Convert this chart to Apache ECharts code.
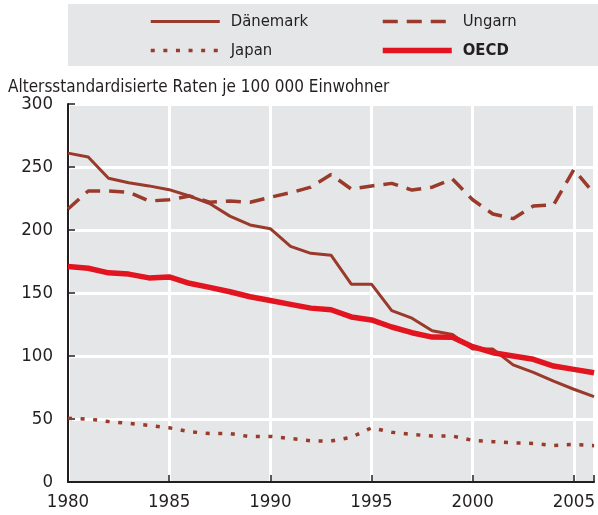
<!DOCTYPE html>
<html>
<head>
    <meta charset="utf-8">
    <script src="https://cdn.jsdelivr.net/npm/echarts@6/dist/echarts.min.js"></script>
    <style>
        html, body { margin: 0; padding: 0; background: #fff; }
    </style>
</head>
<body>
    <div id="main" style="width: 598px;height:515px;"></div>
    <script type="text/javascript">
        // Jahre und Raten je 100 000 Einwohner
        var years = [1980, 1981, 1982, 1983, 1984, 1985, 1986, 1987, 1988, 1989,
            1990, 1991, 1992, 1993, 1994, 1995, 1996, 1997, 1998, 1999,
            2000, 2001, 2002, 2003, 2004, 2005, 2006];
        var daenemark = [261, 258, 241, 237.5, 235, 232, 227, 221, 211, 204,
            201, 187, 181.5, 180, 157, 157, 136, 130, 120, 117,
            105.5, 105.5, 93, 87, 80, 73.6, 67.7];
        var ungarn = [216.7, 231, 231, 230, 223, 224, 227, 222, 223, 222,
            226, 229.6, 234, 244, 232.5, 235, 237, 231.7, 234, 240.5,
            224, 212.7, 209, 219, 220, 248, 229];
        var japan = [50.5, 50, 48, 46.5, 45, 43, 40, 38.4, 38.4, 36,
            36.2, 34.5, 32.7, 32.5, 35.5, 43, 39.5, 37.7, 36.5, 36.5,
            33, 32, 31, 30.6, 29, 29.8, 28.8];
        var oecd = [171, 169.6, 166, 165, 162, 162.7, 157.7, 154.5, 151, 147,
            144, 141, 138, 136.7, 131, 128.6, 123, 118.5, 115, 114.8,
            107.4, 102.6, 100, 97.4, 92, 89.4, 86.7];
        var yTicks = [0, 50, 100, 150, 200, 250, 300];

        var FONT = '"Liberation Sans Narrow", "DejaVu Sans Condensed", sans-serif';
        var BROWN = '#993a2b';
        var RED = '#e2141f';
        var DARK = '#231f20';

        function pairs(arr) {
            return years.map(function (y, i) { return [y, arr[i]]; });
        }

        var chartDom = document.getElementById('main');
        var myChart = echarts.init(chartDom);

        var legendBase = {
            orient: 'vertical',
            top: 8,
            itemWidth: 69,
            itemHeight: 14,
            itemGap: 12,
            selectedMode: false,
            itemStyle: { opacity: 0 },
            lineStyle: { width: 'inherit' },
            textStyle: {
                fontFamily: FONT,
                fontSize: 16.5,
                color: DARK,
                padding: [0, 0, 0, 6]
            }
        };

        var option = {
            animation: false,
            title: {
                text: 'Altersstandardisierte Raten je 100 000 Einwohner',
                left: 3,
                top: 74,
                textStyle: {
                    fontFamily: FONT,
                    fontSize: 17,
                    fontWeight: 'normal',
                    color: DARK
                }
            },
            graphic: [{
                type: 'rect',
                z: -10,
                shape: { x: 68, y: 4, width: 530, height: 62 },
                style: { fill: '#e5e6e8' }
            }],
            legend: [
                Object.assign({}, legendBase, {
                    left: 144,
                    data: ['Dänemark', 'Japan']
                }),
                Object.assign({}, legendBase, {
                    left: 375,
                    data: ['Ungarn', { name: 'OECD', textStyle: { fontWeight: 'bold' } }]
                })
            ],
            grid: {
                show: true,
                left: 68,
                top: 104,
                width: 533.5,
                height: 378,
                backgroundColor: '#e5e6e8',
                borderWidth: 0
            },
            xAxis: {
                type: 'value',
                min: 1980,
                max: 2006,
                interval: 5,
                axisLine: { show: true, lineStyle: { color: DARK, width: 2 } },
                axisTick: { show: true, inside: true, length: 7, lineStyle: { color: DARK, width: 1.5 } },
                splitLine: { show: true, lineStyle: { color: '#ffffff', width: 3 } },
                axisLabel: {
                    fontFamily: FONT,
                    fontSize: 18.5,
                    color: DARK,
                    margin: 11,
                    formatter: function (v) { return v % 5 === 0 ? String(v) : ''; }
                }
            },
            yAxis: {
                type: 'value',
                min: yTicks[0],
                max: yTicks[yTicks.length - 1],
                interval: 50,
                axisLine: { show: true, lineStyle: { color: DARK, width: 2 } },
                axisTick: { show: true, inside: true, length: 7, lineStyle: { color: DARK, width: 1.5 } },
                splitLine: { show: true, lineStyle: { color: '#ffffff', width: 3 } },
                axisLabel: {
                    fontFamily: FONT,
                    fontSize: 18.5,
                    color: DARK,
                    margin: 15
                }
            },
            series: [
                {
                    name: 'Dänemark',
                    type: 'line',
                    symbol: 'none',
                    data: pairs(daenemark),
                    lineStyle: { color: BROWN, width: 3 },
                    itemStyle: { color: BROWN }
                },
                {
                    name: 'Ungarn',
                    type: 'line',
                    symbol: 'none',
                    data: pairs(ungarn),
                    lineStyle: { color: BROWN, width: 3.5, type: [15, 9], cap: 'butt' },
                    itemStyle: { color: BROWN }
                },
                {
                    name: 'Japan',
                    type: 'line',
                    symbol: 'none',
                    data: pairs(japan),
                    lineStyle: { color: BROWN, width: 3.5, type: [4, 8.6], cap: 'butt' },
                    itemStyle: { color: BROWN }
                },
                {
                    name: 'OECD',
                    type: 'line',
                    symbol: 'none',
                    data: pairs(oecd),
                    lineStyle: { color: RED, width: 5.5 },
                    itemStyle: { color: RED }
                }
            ]
        };
        myChart.setOption(option);
    </script>
</body>
</html>
